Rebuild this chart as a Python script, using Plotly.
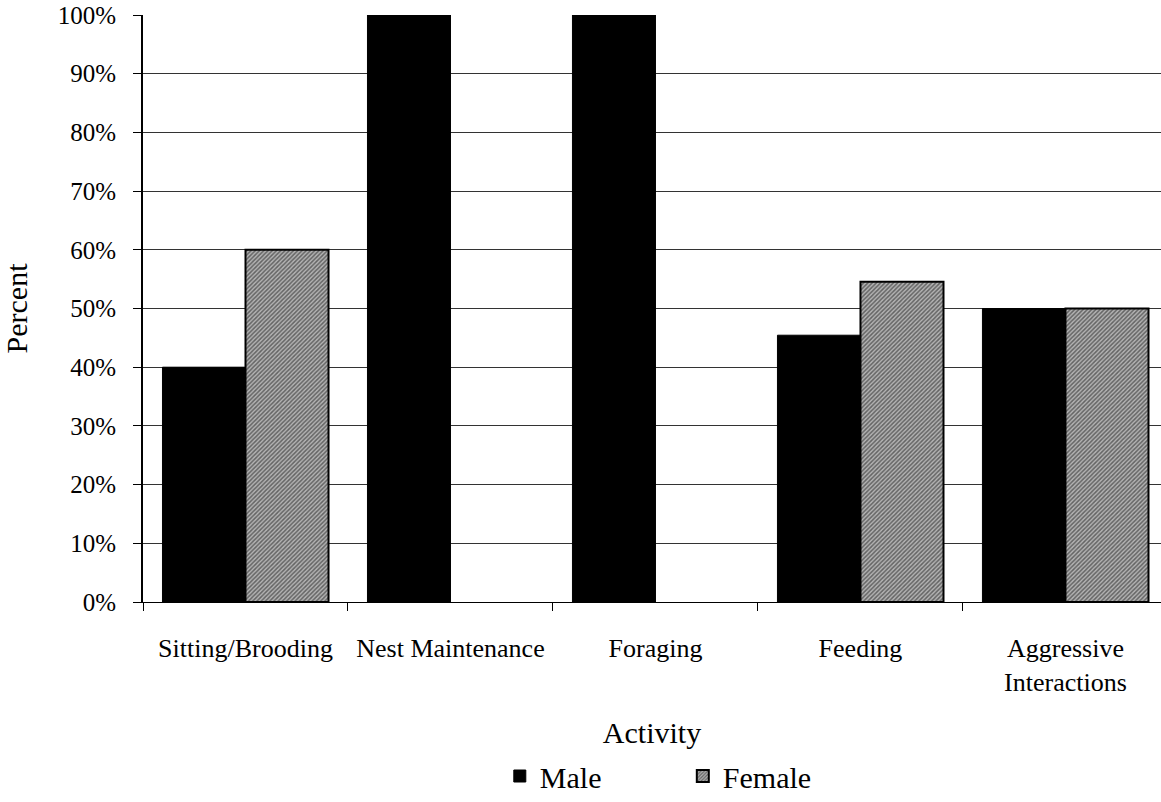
import plotly.graph_objects as go

categories = ["Sitting/Brooding", "Nest Maintenance", "Foraging", "Feeding", "Aggressive<br>Interactions"]
male = [40.0, 100.0, 100.0, 45.45, 50.0]
female = [60.0, 0.0, 0.0, 54.55, 50.0]
yticks = list(range(0, 101, 10))
ytick_labels = [f"{v}%" for v in yticks]

FONT = "Liberation Serif, Times New Roman, serif"

fig = go.Figure()
fig.add_trace(go.Bar(
    x=categories, y=male, name="Male",
    marker=dict(color="black", line=dict(color="black", width=1)),
))
fig.add_trace(go.Bar(
    x=categories, y=female, name="Female",
    marker=dict(color="#888888",
                line=dict(color="black", width=[2 if v > 0 else 0 for v in female]),
                pattern=dict(shape="/", fgcolor="#111111", bgcolor="#b4b4b4", size=3, solidity=0.5)),
))

fig.update_layout(
    width=1161, height=802,
    margin=dict(l=143, r=0, t=15, b=200, autoexpand=False),
    paper_bgcolor="white", plot_bgcolor="white",
    barmode="group", bargap=0.19, bargroupgap=0,
    font=dict(family=FONT, color="black", size=25),
    showlegend=True,
    legend=dict(orientation="h", xref="container", yref="container",
                x=0.4305, y=0.0, xanchor="left", yanchor="bottom",
                font=dict(size=30, family=FONT), entrywidth=138, itemwidth=30,
                traceorder="normal"),
    xaxis=dict(
        range=[-0.5, 4.466], tickson="boundaries", ticks="outside", ticklen=8,
        tickcolor="black", showline=True, linecolor="black", linewidth=1,
        tickfont=dict(size=26), ticklabelstandoff=23,
        title=dict(text="Activity", font=dict(size=30), standoff=25),
        showgrid=False, automargin=False,
    ),
    yaxis=dict(
        range=[0, 100], tickvals=yticks, ticktext=ytick_labels, ticks="outside", ticklen=8,
        tickcolor="black", showline=True, linecolor="black", linewidth=2,
        gridcolor="#333333", gridwidth=1, tickfont=dict(size=25), ticklabelstandoff=12,
        title=dict(text="Percent", font=dict(size=30), standoff=26), zeroline=False,
        automargin=False,
    ),
)

fig.write_html("out.html", config={"displayModeBar": False},
               post_script="document.body.style.margin='0';")
